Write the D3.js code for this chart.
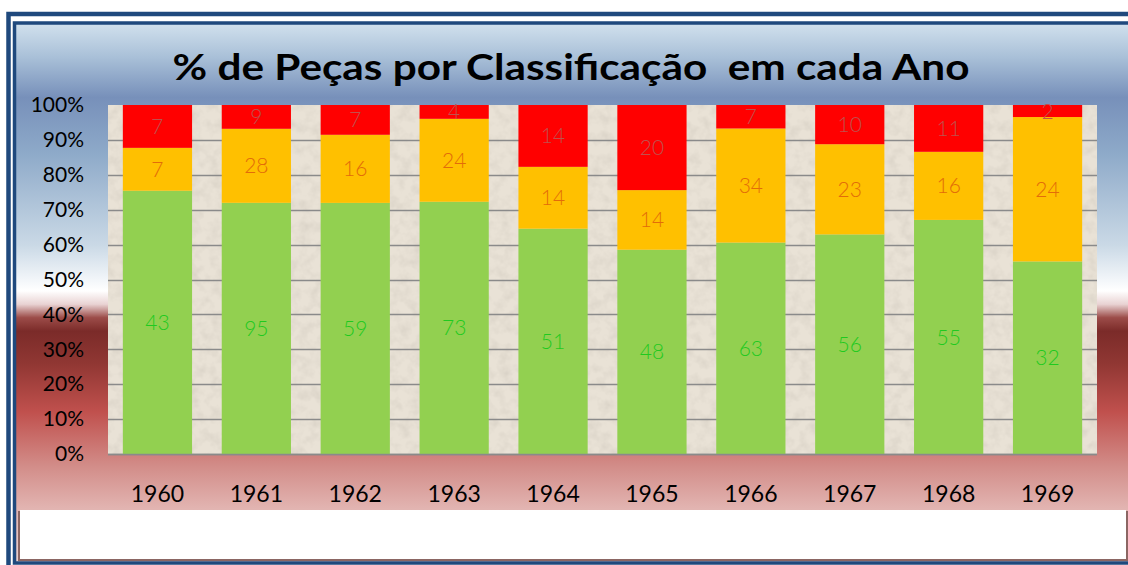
<!DOCTYPE html>
<html>
<head>
<meta charset="utf-8">
<script src="https://cdn.jsdelivr.net/npm/d3@7"></script>
<style>
  body { margin: 0; background: #ffffff; }
  svg { display: block; }
</style>
</head>
<body>
<div id="chart"></div>
<script>
// dados
var years = ['1960', '1961', '1962', '1963', '1964', '1965', '1966', '1967', '1968', '1969'];
var greenVals = [43, 95, 59, 73, 51, 48, 63, 56, 55, 32];
var yellowVals = [7, 28, 16, 24, 14, 14, 34, 23, 16, 24];
var redVals = [7, 9, 7, 4, 14, 20, 7, 10, 11, 2];
var yTicks = [0, 0.1, 0.2, 0.3, 0.4, 0.5, 0.6, 0.7, 0.8, 0.9, 1];
var titleText = '% de Peças por Classificação  em cada Ano';

(function() {
  var width = 1128;
  var height = 565;

  // área do gráfico
  var plot = { left: 108, right: 1097, top: 105, bottom: 454 };

  var seriesKeys = ['green', 'yellow', 'red'];
  var barColor = { green: '#92d050', yellow: '#ffc000', red: '#ff0000' };
  var labelColor = { green: '#1fca1f', yellow: '#e36c09', red: '#c0504d' };

  var rows = years.map(function(y, i) {
    return { year: y, green: greenVals[i], yellow: yellowVals[i], red: redVals[i] };
  });

  var stack = d3.stack().keys(seriesKeys).offset(d3.stackOffsetExpand);
  var layers = stack(rows);

  var x = d3.scaleBand()
    .domain(years)
    .range([plot.left, plot.right])
    .paddingInner(0.3)
    .paddingOuter(0.15);

  var y = d3.scaleLinear()
    .domain([0, 1])
    .range([plot.bottom, plot.top]);

  var svg = d3.select('#chart').append('svg')
    .attr('width', width)
    .attr('height', height);

  var defs = svg.append('defs');

  // fundo em degradê (azul -> branco -> vermelho)
  var bg = defs.append('linearGradient')
    .attr('id', 'bgGrad')
    .attr('gradientUnits', 'userSpaceOnUse')
    .attr('x1', 0).attr('x2', 0)
    .attr('y1', 25).attr('y2', 562);
  [
    [0, '#cfdfec'],
    [0.06, '#a9c0d8'],
    [0.135, '#7790ba'],
    [0.24, '#8eaac9'],
    [0.41, '#cad9e6'],
    [0.495, '#ffffff'],
    [0.52, '#e9d3d3'],
    [0.545, '#9c4c49'],
    [0.57, '#7b2b29'],
    [0.63, '#903733'],
    [0.72, '#c0504d'],
    [0.82, '#d28c88'],
    [0.9, '#e2b4b1'],
    [1, '#ead0ce']
  ].forEach(function(s) {
    bg.append('stop').attr('offset', s[0]).attr('stop-color', s[1]);
  });

  // textura bege da área de plotagem
  var noise = defs.append('filter')
    .attr('id', 'noise')
    .attr('x', 0).attr('y', 0)
    .attr('width', '100%').attr('height', '100%');
  noise.append('feTurbulence')
    .attr('type', 'fractalNoise')
    .attr('baseFrequency', 0.09)
    .attr('numOctaves', 3)
    .attr('seed', 7);
  noise.append('feColorMatrix')
    .attr('type', 'matrix')
    .attr('values', '0 0 0 0 0.5  0 0 0 0 0.46  0 0 0 0 0.4  0.6 0 0 0 -0.24');

  // moldura externa
  svg.append('rect')
    .attr('x', 8.5).attr('y', 14)
    .attr('width', width).attr('height', height)
    .attr('fill', 'none')
    .attr('stroke', '#1f497d')
    .attr('stroke-width', 4.5);

  svg.append('rect')
    .attr('x', 14.5).attr('y', 23)
    .attr('width', width).attr('height', 540)
    .attr('fill', 'url(#bgGrad)')
    .attr('stroke', '#1f497d')
    .attr('stroke-width', 3.5);

  // caixa branca embaixo (com sombra à esquerda e embaixo)
  svg.append('rect')
    .attr('x', 18).attr('y', 511)
    .attr('width', 1110).attr('height', 50)
    .attr('fill', '#8b6663');
  svg.append('rect')
    .attr('x', 20).attr('y', 510)
    .attr('width', 1106).attr('height', 49)
    .attr('fill', '#ffffff');

  // título
  svg.append('text')
    .attr('x', 571)
    .attr('y', 80)
    .attr('text-anchor', 'middle')
    .attr('font-family', 'Lato, "Open Sans", sans-serif')
    .attr('font-weight', 'bold')
    .attr('font-size', 37)
    .attr('fill', '#000000')
    .style('white-space', 'pre')
    .attr('textLength', 797)
    .attr('lengthAdjust', 'spacingAndGlyphs')
    .text(titleText);

  // área de plotagem
  svg.append('rect')
    .attr('x', plot.left).attr('y', plot.top)
    .attr('width', plot.right - plot.left)
    .attr('height', plot.bottom - plot.top)
    .attr('fill', '#e9e2d6');
  svg.append('rect')
    .attr('x', plot.left).attr('y', plot.top)
    .attr('width', plot.right - plot.left)
    .attr('height', plot.bottom - plot.top)
    .attr('filter', 'url(#noise)');

  // linhas de grade
  svg.append('g')
    .selectAll('line')
    .data(yTicks.filter(function(t) { return t < 1; }))
    .enter()
    .append('line')
    .attr('x1', plot.left)
    .attr('x2', plot.right)
    .attr('y1', function(d) { return Math.round(y(d)) + 0.5; })
    .attr('y2', function(d) { return Math.round(y(d)) + 0.5; })
    .attr('stroke', '#8a8a8a')
    .attr('stroke-width', 1.5);

  // barras empilhadas 100%
  var layerG = svg.append('g').selectAll('g')
    .data(layers)
    .enter()
    .append('g')
    .attr('fill', function(d) { return barColor[d.key]; });

  layerG.selectAll('rect')
    .data(function(d) { return d; })
    .enter()
    .append('rect')
    .attr('x', function(d) { return x(d.data.year); })
    .attr('width', x.bandwidth())
    .attr('y', function(d) { return y(d[1]); })
    .attr('height', function(d) { return y(d[0]) - y(d[1]); });

  // rótulos de dados
  var labelG = svg.append('g').selectAll('g')
    .data(layers)
    .enter()
    .append('g')
    .attr('fill', function(d) { return labelColor[d.key]; });

  labelG.selectAll('text')
    .data(function(d) {
      return d.map(function(v) { return { v: v, key: d.key }; });
    })
    .enter()
    .append('text')
    .attr('x', function(d) { return x(d.v.data.year) + x.bandwidth() / 2; })
    .attr('y', function(d) { return y((d.v[0] + d.v[1]) / 2); })
    .attr('dy', '0.36em')
    .attr('text-anchor', 'middle')
    .attr('font-family', 'Lato, "Open Sans", sans-serif')
    .attr('font-weight', 300)
    .attr('font-size', 21)
    .text(function(d) { return d.v.data[d.key]; });

  // eixo Y
  var yAxis = d3.axisLeft(y)
    .tickValues(yTicks)
    .tickFormat(d3.format('.0%'))
    .tickSize(0)
    .tickPadding(0);

  var yAxisG = svg.append('g')
    .attr('transform', 'translate(84,0)')
    .call(yAxis);
  yAxisG.select('.domain').remove();
  yAxisG.selectAll('text')
    .attr('font-family', 'Lato, "Open Sans", sans-serif')
    .attr('font-size', 21)
    .attr('fill', '#000000');

  // eixo X
  var xAxis = d3.axisBottom(x)
    .tickSize(0)
    .tickPadding(0);

  var xAxisG = svg.append('g')
    .attr('transform', 'translate(0,' + plot.bottom + ')')
    .call(xAxis);
  xAxisG.select('.domain')
    .attr('stroke', '#8a8a8a')
    .attr('stroke-width', 1.5)
    .attr('d', 'M' + plot.left + ',0.5H' + plot.right);
  xAxisG.selectAll('text')
    .attr('y', 48)
    .attr('dy', 0)
    .attr('font-family', 'Lato, "Open Sans", sans-serif')
    .attr('font-size', 23)
    .attr('fill', '#000000');
})();
</script>
</body>
</html>
